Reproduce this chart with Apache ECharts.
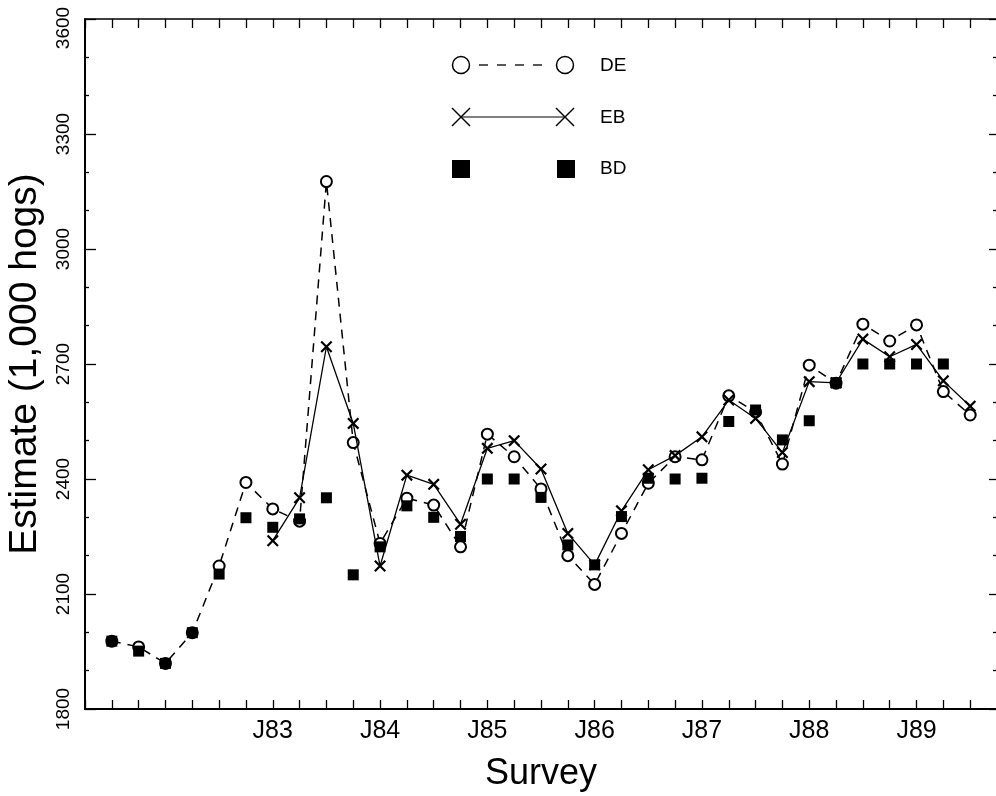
<!DOCTYPE html>
<html><head><meta charset="utf-8">
<script src="https://cdn.jsdelivr.net/npm/echarts@6/dist/echarts.min.js"></script>
<style>html,body{margin:0;padding:0;background:#fff}#c{width:996px;height:796px}</style>
</head><body><div id="c"></div>
<script>
// quarterly survey positions (0 = first survey shown)
const quarterIndex = [0,1,2,3,4,5,6,7,8,9,10,11,12,13,14,15,16,17,18,19,20,21,22,23,24,25,26,27,28,29,30,31,32];
const yearTicks  = [6,10,14,18,22,26,30];
const yearLabels = ['J83','J84','J85','J86','J87','J88','J89'];

const DE = [1977,1962,1919,1999,2173,2391,2322,2290,3176,2495,2232,2350,2332,2223,2517,2458,2374,2200,2125,2258,2389,2458,2450,2617,2575,2439,2697,2650,2804,2760,2802,2628,2567];
const EB = [null,null,null,null,null,null,2239,2351,2745,2545,2173,2410,2386,2282,2480,2500,2426,2258,2176,2317,2424,2461,2510,2606,2558,2469,2654,2651,2765,2719,2751,2656,2590];
const BD = [1977,1951,1919,1999,2152,2299,2274,2296,2351,2150,2223,2330,2300,2250,2400,2400,2352,2228,2176,2302,2402,2400,2402,2550,2580,2502,2552,2651,2700,2700,2700,2700];

const toPairs = arr => arr.map((v,i)=>[quarterIndex[i], v]).filter(p=>p[1]!=null);
const XPATH = 'path://M0,1.3L1.3,0L5,3.7L8.7,0L10,1.3L6.3,5L10,8.7L8.7,10L5,6.3L1.3,10L0,8.7L3.7,5Z';
const FONT = 'Liberation Sans, Arial, sans-serif';

const chart = echarts.init(document.getElementById('c'));
const axisLineStyle = {color:'#000', width:2};
chart.setOption({
  backgroundColor:'#fff',
  animation:false,
  grid:{left:85, top:19, width:912, height:690, containLabel:false, outerBoundsMode:'none'},
  xAxis:[{
    type:'value', min:-1, max:33, interval:1, position:'bottom',
    name:'Survey', nameLocation:'middle', nameGap:47,
    nameTextStyle:{fontFamily:FONT, fontSize:36, color:'#000'},
    axisLine:{show:true, onZero:false, lineStyle:axisLineStyle},
    axisTick:{show:true, inside:true, length:9, lineStyle:{color:'#000', width:1.3}},
    axisLabel:{show:true, margin:10, fontFamily:FONT, fontSize:25, color:'#000',
      formatter:v=>{const k=yearTicks.indexOf(v); return k>=0?yearLabels[k]:'';}},
    splitLine:{show:false}
  },{
    type:'value', min:-1, max:33, interval:1, position:'top',
    axisLine:{show:true, onZero:false, lineStyle:{color:'#000', width:1.5}},
    axisTick:{show:true, inside:true, length:9, lineStyle:{color:'#000', width:1.3}},
    axisLabel:{show:false}, splitLine:{show:false}
  }],
  yAxis:[{
    type:'value', min:1800, max:3600, interval:300, position:'left',
    name:'Estimate (1,000 hogs)', nameLocation:'middle', nameGap:40, nameRotate:90,
    nameTextStyle:{fontFamily:FONT, fontSize:39, color:'#000'},
    axisLine:{show:true, onZero:false, lineStyle:axisLineStyle},
    axisTick:{show:true, inside:true, length:11, lineStyle:{color:'#000', width:1.3}},
    minorTick:{show:true, splitNumber:3, length:4, lineStyle:{color:'#000', width:1.3}},
    axisLabel:{show:true, rotate:90, margin:12, fontFamily:FONT, fontSize:19, color:'#000',
      formatter:v=> v===3600 ? '{top|3600}' : String(v),
      rich:{top:{fontFamily:FONT, fontSize:19, color:'#000', padding:[0,18,0,0]}}},
    splitLine:{show:false}
  },{
    type:'value', min:1800, max:3600, interval:300, position:'right',
    axisLine:{show:false, onZero:false},
    axisTick:{show:true, inside:true, length:8, lineStyle:{color:'#000', width:1.3}},
    minorTick:{show:true, splitNumber:3, length:4, lineStyle:{color:'#000', width:1.3}},
    axisLabel:{show:false}, splitLine:{show:false}
  }],
  series:[{
    name:'DE', type:'line', data:toPairs(DE), symbol:'emptyCircle', symbolSize:11,
    lineStyle:{color:'#000', width:1.5, type:[9,7]},
    itemStyle:{color:'#000', borderColor:'#000', borderWidth:1.4}, z:2
  },{
    name:'EB', type:'line', data:toPairs(EB), symbol:XPATH, symbolSize:12,
    lineStyle:{color:'#000', width:1.3},
    itemStyle:{color:'#000'}, z:3
  },{
    name:'BD', type:'scatter', data:toPairs(BD), symbol:'rect', symbolSize:11,
    itemStyle:{color:'#000', opacity:1}, z:4
  }],
  graphic:[
    {type:'circle', shape:{cx:461, cy:65, r:8.5}, style:{fill:'#fff', stroke:'#000', lineWidth:1.5}},
    {type:'line', shape:{x1:479, y1:65, x2:548, y2:65}, style:{stroke:'#000', lineWidth:1.3, lineDash:[9,9]}},
    {type:'circle', shape:{cx:565, cy:65, r:8.5}, style:{fill:'#fff', stroke:'#000', lineWidth:1.5}},
    {type:'text', left:600, top:56, style:{text:'DE', font:'19px '+FONT, fill:'#000'}},
    {type:'line', shape:{x1:461, y1:117, x2:565, y2:117}, style:{stroke:'#000', lineWidth:1.2}},
    {type:'line', shape:{x1:452, y1:108, x2:470, y2:126}, style:{stroke:'#000', lineWidth:1.5}},
    {type:'line', shape:{x1:452, y1:126, x2:470, y2:108}, style:{stroke:'#000', lineWidth:1.5}},
    {type:'line', shape:{x1:556, y1:108, x2:574, y2:126}, style:{stroke:'#000', lineWidth:1.5}},
    {type:'line', shape:{x1:556, y1:126, x2:574, y2:108}, style:{stroke:'#000', lineWidth:1.5}},
    {type:'text', left:600, top:108, style:{text:'EB', font:'19px '+FONT, fill:'#000'}},
    {type:'rect', shape:{x:452, y:160, width:18, height:18}, style:{fill:'#000'}},
    {type:'rect', shape:{x:557, y:160, width:18, height:18}, style:{fill:'#000'}},
    {type:'text', left:600, top:159, style:{text:'BD', font:'19px '+FONT, fill:'#000'}}
  ]
});
</script></body></html>
